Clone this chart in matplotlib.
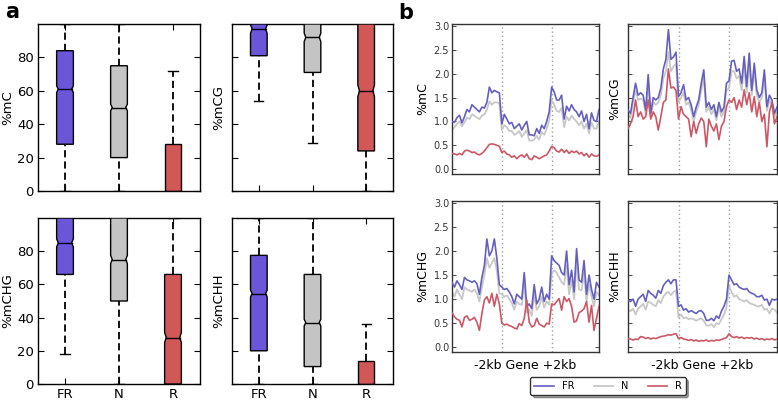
import matplotlib
matplotlib.use("Agg")
import matplotlib.pyplot as plt
import numpy as np

# ---------------- data: panel a (box statistics, %) ----------------
categories = ["FR", "N", "R"]
box_colors = ["#6a56d6", "#c4c4c4", "#d25858"]

mC_q1 = [28, 20, 0]
mC_med = [61, 50, 0]
mC_q3 = [84, 75, 28]
mC_lo = [0, 0, 0]
mC_hi = [100, 100, 72]
mC_ci = [2, 2, 0]

mCG_q1 = [81, 71, 24]
mCG_med = [97, 92, 60]
mCG_q3 = [100, 100, 100]
mCG_lo = [54, 29, 0]
mCG_hi = [100, 100, 100]
mCG_ci = [2.5, 2.5, 3.5]

mCHG_q1 = [66, 50, 0]
mCHG_med = [85, 75, 28]
mCHG_q3 = [100, 100, 66]
mCHG_lo = [18, 0, 0]
mCHG_hi = [100, 100, 100]
mCHG_ci = [2.5, 2.5, 3]

mCHH_q1 = [20, 10.5, 0]
mCHH_med = [54.5, 37, 0]
mCHH_q3 = [77.5, 66, 14]
mCHH_lo = [0, 0, 0]
mCHH_hi = [100, 100, 36]
mCHH_ci = [2, 2, 0]

# ---------------- data: panel b (profiles, 60 bins) ----------------
mC_FR = [1.00, 0.98, 1.08, 1.13, 0.97, 1.10, 1.25, 1.20, 1.35, 1.30, 1.25, 1.20, 1.30, 1.28, 1.40, 1.72, 1.60, 1.65, 1.62, 1.60,
         0.95, 1.15, 1.05, 0.95, 0.98, 0.85, 0.90, 0.95, 0.82, 0.92, 1.00, 0.72, 0.72, 0.70, 0.85, 0.75, 0.92, 0.85, 1.00, 1.20,
         1.72, 1.62, 1.45, 1.45, 1.55, 1.05, 1.32, 1.22, 1.35, 1.25, 1.20, 1.10, 1.22, 1.00, 1.15, 0.85, 1.18, 1.02, 1.00, 1.25]
mC_N = [0.82, 0.88, 0.95, 1.00, 0.90, 0.98, 1.08, 1.05, 1.15, 1.12, 1.08, 1.05, 1.12, 1.15, 1.25, 1.42, 1.35, 1.40, 1.40, 1.38,
        0.82, 0.92, 0.88, 0.80, 0.80, 0.72, 0.75, 0.80, 0.68, 0.75, 0.82, 0.60, 0.60, 0.62, 0.70, 0.62, 0.78, 0.72, 0.85, 1.02,
        1.45, 1.35, 1.22, 1.20, 1.28, 0.88, 1.10, 1.02, 1.12, 1.05, 1.00, 0.92, 1.00, 0.85, 0.95, 0.75, 0.98, 0.85, 0.85, 1.00]
mC_R = [0.33, 0.32, 0.30, 0.33, 0.30, 0.38, 0.40, 0.38, 0.35, 0.36, 0.32, 0.30, 0.33, 0.38, 0.45, 0.52, 0.53, 0.52, 0.50, 0.48,
        0.35, 0.38, 0.32, 0.30, 0.25, 0.28, 0.22, 0.27, 0.30, 0.25, 0.32, 0.22, 0.20, 0.28, 0.25, 0.22, 0.25, 0.28, 0.30, 0.38,
        0.48, 0.45, 0.38, 0.36, 0.42, 0.35, 0.40, 0.33, 0.38, 0.35, 0.38, 0.32, 0.35, 0.28, 0.33, 0.25, 0.32, 0.28, 0.27, 0.30]

mCG_FR = [1.24, 1.17, 1.50, 1.80, 1.55, 1.60, 1.55, 1.24, 1.98, 1.17, 1.50, 1.45, 1.50, 1.70, 2.10, 2.30, 2.92, 2.30, 2.35, 2.45,
          1.52, 1.60, 1.77, 1.45, 1.50, 1.35, 1.10, 1.30, 1.45, 1.80, 2.08, 1.30, 1.40, 1.25, 1.35, 1.10, 1.40, 1.20, 1.30, 1.80,
          1.85, 2.26, 2.28, 2.05, 2.10, 1.80, 2.36, 1.73, 2.43, 1.65, 2.22, 1.66, 1.50, 1.60, 2.08, 1.31, 1.55, 1.45, 1.17, 1.30]
mCG_N = [1.15, 1.08, 1.40, 1.65, 1.45, 1.48, 1.45, 1.15, 1.80, 1.10, 1.40, 1.35, 1.40, 1.55, 1.90, 2.05, 2.45, 2.05, 2.15, 2.20,
         1.40, 1.50, 1.60, 1.35, 1.40, 1.25, 1.00, 1.20, 1.35, 1.65, 1.90, 1.20, 1.30, 1.15, 1.25, 1.02, 1.30, 1.10, 1.20, 1.65,
         1.70, 2.05, 2.05, 1.90, 1.95, 1.65, 2.15, 1.60, 2.20, 1.55, 2.05, 1.55, 1.40, 1.50, 1.90, 1.22, 1.45, 1.35, 1.10, 1.20]
mCG_R = [0.85, 0.95, 1.10, 1.45, 1.10, 1.20, 1.05, 1.10, 1.45, 1.05, 1.20, 1.10, 0.82, 1.10, 1.40, 1.45, 2.10, 1.70, 1.72, 1.65,
         1.05, 1.31, 1.15, 1.10, 1.05, 0.68, 1.00, 0.75, 0.95, 1.07, 1.00, 0.47, 1.05, 0.90, 0.80, 0.95, 0.62, 0.90, 1.00, 1.31,
         1.45, 1.40, 1.50, 1.25, 1.45, 1.30, 1.66, 1.35, 1.60, 1.20, 1.52, 1.10, 1.40, 1.00, 1.15, 0.47, 1.20, 1.40, 0.95, 1.10]

mCHG_FR = [1.35, 1.25, 1.38, 1.30, 1.20, 1.45, 1.40, 1.38, 1.35, 1.38, 1.32, 1.10, 1.45, 1.70, 2.25, 1.90, 2.00, 2.25, 1.85, 1.30,
           1.25, 1.20, 1.22, 1.15, 1.05, 0.90, 1.10, 1.05, 1.00, 1.55, 0.85, 0.90, 0.80, 1.30, 0.90, 1.00, 1.25, 0.95, 1.10, 1.00,
           1.90, 1.80, 1.75, 1.70, 1.55, 1.50, 2.00, 1.30, 1.60, 1.15, 2.05, 1.40, 1.35, 1.80, 1.10, 1.50, 1.20, 1.00, 1.35, 1.25]
mCHG_N = [1.15, 1.05, 1.20, 1.10, 1.00, 1.25, 1.20, 1.18, 1.15, 1.20, 1.12, 0.95, 1.25, 1.50, 1.85, 1.65, 1.75, 1.85, 1.60, 1.12,
          1.10, 1.05, 1.08, 1.00, 0.92, 0.78, 0.95, 0.90, 0.88, 1.30, 0.72, 0.78, 0.65, 1.10, 0.78, 0.85, 1.05, 0.82, 0.95, 0.88,
          1.55, 1.60, 1.55, 1.45, 1.35, 1.30, 1.70, 1.10, 1.40, 1.00, 1.75, 1.20, 1.18, 1.55, 0.95, 1.30, 1.05, 0.85, 1.15, 1.08]
mCHG_R = [0.72, 0.63, 0.58, 0.56, 0.42, 0.62, 0.65, 0.56, 0.58, 0.62, 0.52, 0.35, 0.70, 0.98, 1.05, 0.92, 1.12, 0.85, 1.10, 0.90,
          0.50, 0.46, 0.48, 0.45, 0.43, 0.40, 0.38, 0.49, 0.45, 0.60, 0.98, 0.52, 0.42, 0.45, 0.60, 0.48, 0.45, 0.42, 0.50, 0.48,
          0.90, 0.88, 0.95, 1.01, 0.77, 1.05, 0.95, 1.01, 0.85, 0.52, 0.55, 0.72, 0.75, 0.80, 0.95, 0.52, 0.87, 0.35, 0.60, 0.85]

mCHH_FR = [0.98, 0.95, 1.00, 0.85, 1.00, 1.05, 1.10, 0.95, 1.18, 1.12, 1.08, 1.02, 1.18, 1.12, 1.28, 1.35, 1.40, 1.32, 1.40, 1.40,
           0.85, 0.88, 0.77, 0.80, 0.73, 0.76, 0.73, 0.70, 0.75, 0.76, 0.70, 0.56, 0.56, 0.60, 0.55, 0.65, 0.60, 0.75, 0.85, 1.00,
           1.50, 1.40, 1.30, 1.32, 1.25, 1.22, 1.20, 1.22, 1.15, 1.12, 1.10, 1.05, 1.05, 1.08, 0.98, 1.00, 0.87, 1.00, 0.98, 1.00]
mCHH_N = [0.78, 0.75, 0.80, 0.68, 0.80, 0.85, 0.90, 0.78, 0.95, 0.92, 0.88, 0.85, 0.98, 0.92, 1.05, 1.12, 1.15, 1.08, 1.15, 1.18,
          0.62, 0.68, 0.60, 0.62, 0.58, 0.60, 0.58, 0.55, 0.58, 0.60, 0.55, 0.45, 0.45, 0.48, 0.42, 0.50, 0.48, 0.58, 0.68, 0.82,
          1.28, 1.15, 1.05, 1.08, 1.00, 0.98, 0.95, 0.98, 0.92, 0.90, 0.88, 0.85, 0.85, 0.88, 0.78, 0.80, 0.70, 0.80, 0.78, 0.72]
mCHH_R = [0.18, 0.17, 0.15, 0.17, 0.16, 0.22, 0.21, 0.18, 0.20, 0.17, 0.19, 0.18, 0.20, 0.22, 0.23, 0.24, 0.26, 0.25, 0.27, 0.28,
          0.18, 0.20, 0.17, 0.16, 0.14, 0.16, 0.13, 0.15, 0.12, 0.14, 0.13, 0.15, 0.12, 0.14, 0.13, 0.15, 0.14, 0.16, 0.18, 0.20,
          0.28, 0.22, 0.20, 0.22, 0.19, 0.21, 0.18, 0.20, 0.19, 0.20, 0.17, 0.19, 0.16, 0.18, 0.15, 0.17, 0.16, 0.18, 0.15, 0.17]

boundaries = [20, 40]
line_colors = {"FR": "#6560c0", "N": "#c8c8c8", "R": "#cc5866"}

# ---------------- figure ----------------
W, H = 778, 401
fig = plt.figure(figsize=(W / 100, H / 100), dpi=100)
plt.rcParams["font.family"] = ["DejaVu Sans"]


def add_ax(x0, y0, x1, y1):
    return fig.add_axes([x0 / W, 1 - y1 / H, (x1 - x0) / W, (y1 - y0) / H])


def draw_boxes(ax, q1, med, q3, lo, hi, ci, ylabel, show_ylabels, show_x):
    width = 0.31
    nw = 0.25
    capw = 0.17
    for i, (a, m, b, l, h, c) in enumerate(zip(q1, med, q3, lo, hi, ci)):
        x = i + 1
        cl = max(m - c, a)
        ch = min(m + c, b)
        xs = [x - width / 2, x + width / 2, x + width / 2, x + nw / 2, x + width / 2, x + width / 2,
              x - width / 2, x - width / 2, x - nw / 2, x - width / 2]
        ys = [a, a, cl, m, ch, b, b, ch, m, cl]
        ax.fill(xs, ys, facecolor=box_colors[i], edgecolor="black", linewidth=1.0, zorder=3)
        ax.plot([x - nw / 2, x + nw / 2], [m, m], color="black", lw=1.0, zorder=4)
        if h > b:
            ax.plot([x, x], [b, h], color="black", lw=1.3, linestyle=(0, (4, 2.2)), zorder=2)
            ax.plot([x - capw / 2, x + capw / 2], [h, h], color="black", lw=1.0, zorder=2)
        if l < a:
            ax.plot([x, x], [l, a], color="black", lw=1.3, linestyle=(0, (4, 2.2)), zorder=2)
            ax.plot([x - capw / 2, x + capw / 2], [l, l], color="black", lw=1.0, zorder=2)
    ax.set_xlim(0.5, 3.5)
    ax.set_ylim(0, 100)
    ax.set_yticks([0, 20, 40, 60, 80])
    ax.set_xticks([1, 2, 3])
    ax.tick_params(direction="in", top=True, right=True, length=4, width=0.8, labelsize=9.5, pad=3)
    ax.set_xticklabels(categories if show_x else [])
    ax.set_ylabel(ylabel, fontsize=9.5, labelpad=2)
    if not show_ylabels:
        ax.set_yticklabels([])
    for s in ax.spines.values():
        s.set_linewidth(1.0)


axA1 = add_ax(38, 24, 200, 191)
axA2 = add_ax(232, 24, 393, 191)
axA3 = add_ax(38, 218, 200, 384)
axA4 = add_ax(232, 218, 393, 384)
draw_boxes(axA1, mC_q1, mC_med, mC_q3, mC_lo, mC_hi, mC_ci, "%mC", True, False)
draw_boxes(axA2, mCG_q1, mCG_med, mCG_q3, mCG_lo, mCG_hi, mCG_ci, "%mCG", False, False)
draw_boxes(axA3, mCHG_q1, mCHG_med, mCHG_q3, mCHG_lo, mCHG_hi, mCHG_ci, "%mCHG", True, True)
draw_boxes(axA4, mCHH_q1, mCHH_med, mCHH_q3, mCHH_lo, mCHH_hi, mCHH_ci, "%mCHH", False, True)


def draw_profile(ax, fr, n, r, ylabel, show_y, show_x):
    x = np.arange(len(fr))
    ax.plot(x, n, color=line_colors["N"], lw=1.3, label="N", zorder=2)
    ax.plot(x, fr, color=line_colors["FR"], lw=1.2, label="FR", zorder=3)
    ax.plot(x, r, color=line_colors["R"], lw=1.2, label="R", zorder=3)
    for b in boundaries:
        ax.axvline(b, color="#a0a0a0", lw=1.0, linestyle=(0, (1, 2)), zorder=1)
    ax.set_xlim(0, len(fr) - 1)
    ax.set_ylim(-0.1, 3.04)
    ax.set_yticks([0.0, 0.5, 1.0, 1.5, 2.0, 2.5, 3.0])
    ax.set_xticks([])
    ax.tick_params(axis="y", direction="in", right=True, length=3, width=0.7, labelsize=7, pad=2,
                   labelcolor="#333333", color="#444444")
    if not show_y:
        ax.set_yticklabels([])
    ax.set_ylabel(ylabel, fontsize=9, labelpad=3)
    if show_x:
        ax.set_xlabel("-2kb Gene +2kb", fontsize=9, labelpad=5)
    for s in ax.spines.values():
        s.set_linewidth(1.0)
        s.set_color("#333333")


axB1 = add_ax(452, 24, 599, 174)
axB2 = add_ax(628, 24, 777, 174)
axB3 = add_ax(452, 201, 599, 352)
axB4 = add_ax(628, 201, 777, 352)
draw_profile(axB1, mC_FR, mC_N, mC_R, "%mC", True, False)
draw_profile(axB2, mCG_FR, mCG_N, mCG_R, "%mCG", False, False)
draw_profile(axB3, mCHG_FR, mCHG_N, mCHG_R, "%mCHG", True, True)
draw_profile(axB4, mCHH_FR, mCHH_N, mCHH_R, "%mCHH", False, True)

handles, labels = axB1.get_legend_handles_labels()
order = [labels.index(k) for k in ["FR", "N", "R"]]
fig.legend([handles[i] for i in order], [labels[i] for i in order], ncol=3,
           loc="center", bbox_to_anchor=(608 / W, 1 - 386 / H), fontsize=7,
           fancybox=True, shadow=True, frameon=True, handlelength=2.0, columnspacing=2.0,
           borderpad=0.4, edgecolor="#333333")

fig.text(5 / W, 1 - 12 / H, "a", fontsize=15, fontweight="bold", va="center", ha="left")
fig.text(398 / W, 1 - 13 / H, "b", fontsize=15, fontweight="bold", va="center", ha="left")

fig.savefig("out.png", dpi=100)
